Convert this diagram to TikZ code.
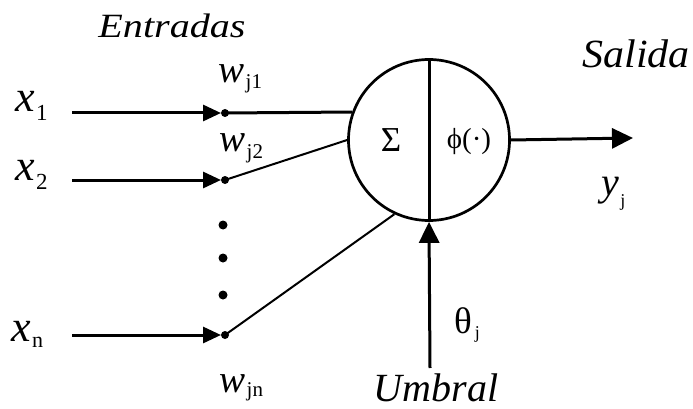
\documentclass[tikz,border=0pt]{standalone}
\usepackage{fontspec}
\setmainfont{Liberation Serif}
\newfontfamily\widefont[FakeStretch=1.18]{Liberation Serif}
\newfontfamily\midfont[FakeStretch=1.05]{Liberation Serif}
\usetikzlibrary{arrows.meta}
\newcommand\mysub[4]{{\itshape #1}\kern1.5pt\lower#4pt\hbox{\fontsize{#3}{#3}\selectfont\upshape #2}}
\begin{document}
\begin{tikzpicture}[x=1pt,y=-1pt,
  thick line/.style={line width=3pt},
  thin line/.style={line width=2pt},
  tip/.style={-{Triangle[length=18pt,width=16pt]}},
  bigtip/.style={-{Triangle[length=21pt,width=20pt]}},
  lbl/.style={inner sep=0pt, anchor=base west, font=\fontsize{44}{44}\selectfont},
  wlbl/.style={inner sep=0pt, anchor=base west, font=\fontsize{39}{39}\selectfont},
  dotn/.style={circle, fill=black, inner sep=0pt, minimum size=9pt}
]
\path[use as bounding box] (0,0) rectangle (693,409);

% neuron
\node[circle, draw, line width=2.7pt, minimum size=161pt, inner sep=0pt] (c) at (429,140) {};
\draw[thick line] (c.north) -- (c.south);
\node[inner sep=0pt, anchor=base, font=\fontsize{35}{35}\selectfont] (sig) at (391,151) {Σ};
\node[inner sep=0pt, anchor=base, font=\fontsize{29}{29}\selectfont] (phi) at (469,149) {ϕ(·)};

% inputs
\coordinate (s1) at (72,113);  \coordinate (a1) at (221,113); \coordinate (j1) at (225,113);
\coordinate (s2) at (72,180);  \coordinate (a2) at (221,180); \coordinate (j2) at (225,180);
\coordinate (sn) at (72,335);  \coordinate (an) at (221,335); \coordinate (jn) at (225,335);

\draw[thick line, tip] (s1) -- (a1);
\draw[thick line, tip] (s2) -- (a2);
\draw[thick line, tip] (sn) -- (an);
\fill (j1) circle (4pt);
\fill (j2) circle (4pt);
\fill (jn) circle (4pt);
\draw[thick line] (j1) -- (c.160);
\draw[thin line] (j2) -- (c.180);
\draw[thin line] (jn) -- (c.245);

\node[dotn] (d1) at (223,225) {};
\node[dotn] (d2) at (223,258) {};
\node[dotn] (d3) at (223,295) {};

% output
\coordinate (out) at (633,138);
\draw[thick line, bigtip] (c.east) -- (out);

% threshold
\coordinate (tb) at (430,368);
\draw[thick line, bigtip] (tb) -- (c.south);

% labels
\node[lbl] (x1) at (15,112) {\mysub{x}{1}{23}{9}};
\node[lbl] (x2) at (15,180) {\mysub{x}{2}{23}{9}};
\node[lbl] (xn) at (11,341) {\mysub{x}{n}{22}{6}};
\node[wlbl] (w1) at (218,83) {\mysub{w}{j1}{21}{6}};
\node[wlbl] (w2) at (219,151) {\mysub{w}{j2}{21}{7}};
\node[wlbl] (wn) at (219,392) {\mysub{w}{jn}{21}{4}};
\node[inner sep=0pt, anchor=base west, font=\fontsize{40}{40}\selectfont] (yj) at (601,195) {\mysub{y}{j}{18}{11}};
\node[inner sep=0pt, anchor=base west, font=\fontsize{37}{37}\selectfont] (th) at (454,333) {θ\kern3pt\lower5pt\hbox{\fontsize{18}{18}\selectfont j}};

\node[inner sep=0pt, anchor=base, font=\fontsize{34}{34}\selectfont\widefont\itshape] (ent) at (172,38) {Entradas};
\node[inner sep=0pt, anchor=base, font=\fontsize{40}{40}\selectfont\midfont\itshape] (sal) at (636,68) {Salida};
\node[inner sep=0pt, anchor=base, font=\fontsize{40}{40}\selectfont\itshape] (umb) at (436,401) {Umbral};
\end{tikzpicture}
\end{document}
